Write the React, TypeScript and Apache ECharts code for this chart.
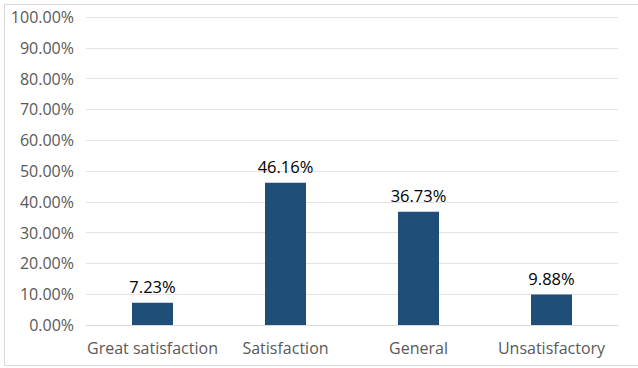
import React, { useEffect, useRef } from "react";
import * as echarts from "echarts";

const categories = ["Great satisfaction", "Satisfaction", "General", "Unsatisfactory"];
const values = [7.23, 46.16, 36.73, 9.88];

export default function App() {
  const ref = useRef<HTMLDivElement>(null);
  useEffect(() => {
    const chart = echarts.init(ref.current!, null, { renderer: "svg" });
    chart.setOption({
      animation: false,
      backgroundColor: "#ffffff",
      graphic: [
        {
          type: "rect",
          shape: { x: 4.5, y: 4.5, width: 640, height: 361 },
          style: { fill: "none", stroke: "#d9d9d9", lineWidth: 1 },
          silent: true,
        },
      ],
      grid: { left: 86, right: 20, top: 17, bottom: 43 },
      xAxis: {
        type: "category",
        data: categories,
        axisTick: { show: false },
        axisLine: { lineStyle: { color: "#d9d9d9" } },
        axisLabel: {
          color: "#595959",
          fontSize: 16,
          fontFamily: "Open Sans",
          margin: 15,
          interval: 0,
        },
      },
      yAxis: {
        type: "value",
        min: 0,
        max: 100,
        interval: 10,
        axisLine: { show: false },
        axisTick: { show: false },
        splitLine: { lineStyle: { color: "#e3e3e3", width: 1 } },
        axisLabel: {
          color: "#595959",
          fontSize: 16,
          fontFamily: "Open Sans",
          margin: 12,
          formatter: (v: number) => v.toFixed(2) + "%",
        },
      },
      series: [
        {
          type: "bar",
          data: values,
          barWidth: 41,
          itemStyle: { color: "#1f4e79" },
          label: {
            show: true,
            position: "top",
            color: "#000000",
            fontSize: 16.5,
            fontFamily: "Open Sans",
            distance: 8,
            formatter: (p: any) => p.value.toFixed(2) + "%",
          },
        },
      ],
    });
    return () => chart.dispose();
  }, []);
  return <div ref={ref} style={{ width: 638, height: 368, position: "absolute", left: 0, top: 0 }} />;
}
